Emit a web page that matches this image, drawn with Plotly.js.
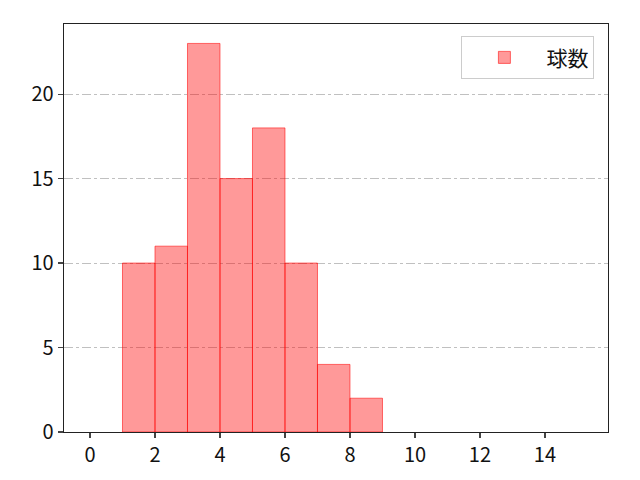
<!DOCTYPE html>
<html>
<head>
<meta charset="utf-8">
<script src="https://cdn.plot.ly/plotly-3.0.1.min.js"></script>
<style>
  body { margin: 0; background: #fff; }
  #chart { width: 640px; height: 480px; }
</style>
</head>
<body>
<div id="chart"></div>
<script>
// ビンの左端と度数
const binLeft = [1, 2, 3, 4, 5, 6, 7, 8];
const counts = [10, 11, 23, 15, 18, 10, 4, 2];
const seriesName = "球数";
const xTicks = [0, 2, 4, 6, 8, 10, 12, 14];
const yTicks = [0, 5, 10, 15, 20];

const trace = {
  type: "bar",
  name: seriesName,
  x: binLeft.map(v => v + 0.5),
  y: counts,
  width: 1,
  marker: {
    color: "rgba(255,0,0,0.4)",
    line: { color: "rgba(255,0,0,0.55)", width: 1 }
  },
  showlegend: true
};

const fam = "'Noto Sans CJK JP', 'DejaVu Sans', sans-serif";
const tickFont = { family: fam, size: 20, color: "#111" };

const layout = {
  width: 640,
  height: 480,
  margin: { l: 64, r: 32, t: 24, b: 48 },
  paper_bgcolor: "#fff",
  plot_bgcolor: "#fff",
  font: { family: fam, size: 18, color: "#111" },
  bargap: 0,
  xaxis: {
    range: [-0.8, 15.94],
    tickvals: xTicks,
    tickfont: tickFont,
    ticks: "outside",
    ticklen: 5,
    tickwidth: 1.2,
    showgrid: false,
    zeroline: false,
    showline: true,
    linecolor: "#222",
    linewidth: 1.3,
    mirror: true
  },
  yaxis: {
    range: [0, 24.15],
    tickvals: yTicks,
    tickfont: tickFont,
    ticks: "outside",
    ticklen: 5,
    tickwidth: 1.2,
    showgrid: true,
    gridcolor: "#b0b0b0",
    griddash: "dashdot",
    gridwidth: 0.8,
    zeroline: false,
    showline: true,
    linecolor: "#222",
    linewidth: 1.3,
    mirror: true
  },
  legend: {
    x: 0.975,
    y: 0.97,
    xanchor: "right",
    yanchor: "top",
    bgcolor: "rgba(255,255,255,0.8)",
    bordercolor: "#cccccc",
    borderwidth: 1,
    itemwidth: 74,
    font: { family: fam, size: 21, color: "#111" }
  }
};

Plotly.newPlot("chart", [trace], layout, { displayModeBar: false, staticPlot: true });
</script>
</body>
</html>
